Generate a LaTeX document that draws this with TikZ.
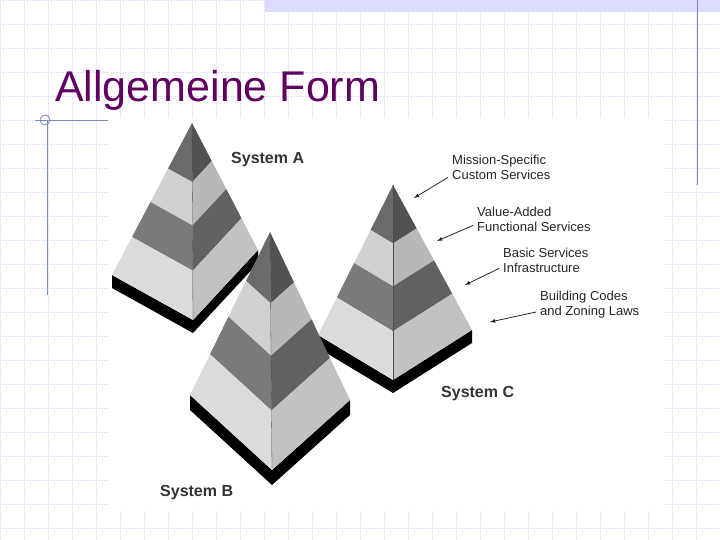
\documentclass[tikz,border=0pt]{standalone}
\usepackage{fontspec}
\setmainfont{Liberation Sans}
\usetikzlibrary{calc}
\definecolor{titlepurple}{RGB}{96,0,96}
\definecolor{slideline}{RGB}{120,140,190}
\tikzset{%
	gridline/.style={blue!12, densely dotted, line width=0.5pt},
	deco/.style={slideline, line width=0.8pt},
	syslabel/.style={font=\bfseries\fontsize{16}{17}\selectfont, text=black!80, inner sep=0pt},
	layerlabel/.style={font=\fontsize{13}{14.5}\selectfont, text=black!85, align=left, anchor=north west, inner sep=0pt},
	pointer/.style={->, >=latex, thick, black!85}
}
% one pyramid: apex, left corner, front corner, right corner, shadow drop
\newcommand{\pyr}[5]{%
	\fill[black] ($#2+(0,#5)$) -- ($#3+(0,#5)$) -- ($#4+(0,#5)$) -- #4 -- #3 -- #2 -- cycle;
	\foreach \ta/\tb/\cl/\cr in {0/0.3/58/68, 0.3/0.52/18/28, 0.52/0.75/52/62, 0.75/1/14/24}{%
		\fill[black!\cl] ($#1!\ta!#2$) -- ($#1!\tb!#2$) -- ($#1!\tb!#3$) -- ($#1!\ta!#3$) -- cycle;
		\fill[black!\cr] ($#1!\ta!#3$) -- ($#1!\tb!#3$) -- ($#1!\tb!#4$) -- ($#1!\ta!#4$) -- cycle;
	}%
	\draw[black!70, line width=0.3pt] #1 -- #3;
}
\begin{document}
\begin{tikzpicture}[x=1pt, y=-1pt]
	\useasboundingbox (0,0) rectangle (720,540);
	\fill[white] (0,0) rectangle (720,540);
	\foreach \g in {0,24,...,720} \draw[gridline] (\g,0) -- (\g,540);
	\foreach \g in {0,24,...,540} \draw[gridline] (0,\g) -- (720,\g);
	\fill[blue!14] (265,0) rectangle (720,12);
	\draw[deco] (697,0) -- (697,185);
	\draw[deco] (47,120) -- (47,295);
	\draw[deco] (35,120) -- (175,120);
	\draw[deco] (45,120) circle (5);
	\node[anchor=base west, text=titlepurple, font=\fontsize{43}{46}\selectfont, inner sep=0pt] (title) at (55,102) {Allgemeine Form};
	\fill[white] (108,118) rectangle (665,510);

	% pyramids, back to front
	\pyr{(192,123)}{(112,275)}{(193,320)}{(258,250)}{13}
	\pyr{(393,185)}{(318,335)}{(393,380)}{(472,330)}{13}
	\pyr{(270,232)}{(190,395)}{(272,470)}{(350,400)}{15}

	\node[syslabel, anchor=west] (sysA) at (231,160) {System A};
	\node[syslabel, anchor=west] (sysB) at (160,493) {System B};
	\node[syslabel, anchor=west] (sysC) at (441,394) {System C};

	\node[layerlabel] (mission) at (452,155) {Mission-Specific\\Custom Services};
	\node[layerlabel] (value) at (477,207) {Value-Added\\Functional Services};
	\node[layerlabel] (basic) at (503,248) {Basic Services\\Infrastructure};
	\node[layerlabel] (codes) at (540,291) {Building Codes\\and Zoning Laws};

	\coordinate (tipM) at (414,198);
	\coordinate (tipV) at (437,241);
	\coordinate (tipB) at (465,285);
	\coordinate (tipC) at (490,322);
	\draw[pointer] ($(mission.south west)+(-4,-2)$) -- (tipM);
	\draw[pointer] ($(value.south west)+(-4,-6)$) -- (tipV);
	\draw[pointer] ($(basic.south west)+(-4,-4)$) -- (tipB);
	\draw[pointer] ($(codes.south west)+(-4,-6)$) -- (tipC);
\end{tikzpicture}
\end{document}
